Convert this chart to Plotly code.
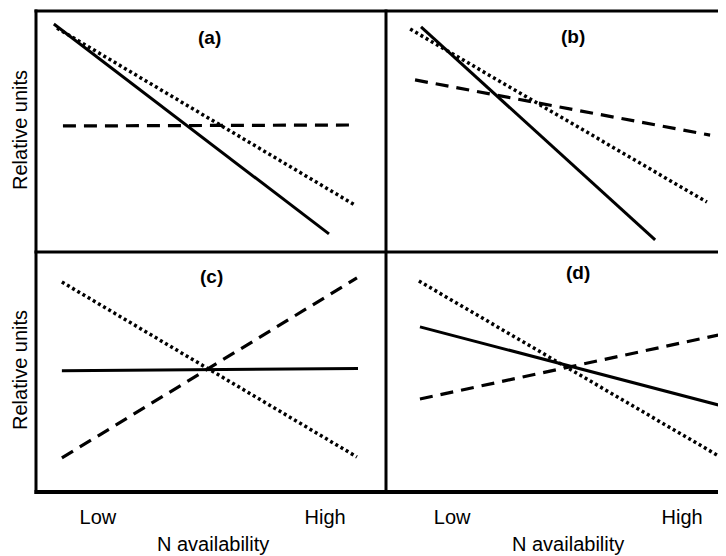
import plotly.graph_objects as go

# page is drawn with an 8px body margin, so the figure is offset by 8px
OFF = 8
W, H = 726 - OFF, 556 - OFF

# ---- data (N availability position 0..1 within panel, relative units 0..1) ----
TICK_TEXT = ["Low", "High"]
TICK_POS_LEFT = [0.177, 0.826]
TICK_POS_RIGHT = [0.189, 0.846]
PANEL_LABELS = ["(a)", "(b)", "(c)", "(d)"]
Y_TITLE = "Relative units"
X_TITLE = "N availability"

# panel (a)
A_SOLID_X, A_SOLID_Y = [0.051, 0.837], [0.946, 0.075]
A_DOT_X, A_DOT_Y = [0.060, 0.911], [0.929, 0.195]
A_DASH_X, A_DASH_Y = [0.077, 0.903], [0.523, 0.527]
# panel (b)
B_SOLID_X, B_SOLID_Y = [0.100, 0.769], [0.934, 0.050]
B_DOT_X, B_DOT_Y = [0.069, 0.917], [0.925, 0.207]
B_DASH_X, B_DASH_Y = [0.083, 0.926], [0.714, 0.485]
# panel (c)
C_SOLID_X, C_SOLID_Y = [0.074, 0.920], [0.505, 0.515]
C_DOT_X, C_DOT_Y = [0.074, 0.917], [0.875, 0.146]
C_DASH_X, C_DASH_Y = [0.074, 0.917], [0.142, 0.892]
# panel (d)
D_SOLID_X, D_SOLID_Y = [0.097, 0.983], [0.688, 0.350]
D_DOT_X, D_DOT_Y = [0.094, 0.946], [0.879, 0.154]
D_DASH_X, D_DASH_Y = [0.097, 0.949], [0.3875, 0.654]


def px(x):
    return (x - OFF) / W


def py(y):
    return 1 - (y - OFF) / H


LEFT, MID, RIGHT = 36, 386, 726
TOP, HMID, BOT = 11, 252, 492
PANEL_W = 350

fig = go.Figure()

SOLID = dict(color="black", width=3)
DOT = dict(color="black", width=3.5, dash="3px,3px")
DASH = dict(color="black", width=3.2, dash="13px,8px")

panels = [
    ("x", "y", [(A_SOLID_X, A_SOLID_Y, SOLID), (A_DOT_X, A_DOT_Y, DOT), (A_DASH_X, A_DASH_Y, DASH)]),
    ("x2", "y2", [(B_SOLID_X, B_SOLID_Y, SOLID), (B_DOT_X, B_DOT_Y, DOT), (B_DASH_X, B_DASH_Y, DASH)]),
    ("x3", "y3", [(C_SOLID_X, C_SOLID_Y, SOLID), (C_DOT_X, C_DOT_Y, DOT), (C_DASH_X, C_DASH_Y, DASH)]),
    ("x4", "y4", [(D_SOLID_X, D_SOLID_Y, SOLID), (D_DOT_X, D_DOT_Y, DOT), (D_DASH_X, D_DASH_Y, DASH)]),
]
for xa, ya, series in panels:
    for xs, ys, ln in series:
        fig.add_trace(go.Scatter(x=xs, y=ys, mode="lines", line=ln,
                                 xaxis=xa, yaxis=ya, showlegend=False,
                                 hoverinfo="skip", cliponaxis=True))

FONT = "Liberation Sans, Arial, sans-serif"
left_dom = [px(LEFT), px(MID)]
right_dom = [px(MID), 1.0]
top_dom = [py(HMID), py(TOP)]
bot_dom = [py(BOT), py(HMID)]
right_range = [0, (RIGHT - MID) / PANEL_W]

base_x = dict(showgrid=False, zeroline=False, showline=False, ticks="",
              fixedrange=True)
base_y = dict(showgrid=False, zeroline=False, showline=False, ticks="",
              showticklabels=False, range=[0, 1], fixedrange=True)

tickfont = dict(family=FONT, size=20, color="black")
fig.update_layout(
    width=W, height=H,
    margin=dict(l=0, r=0, t=0, b=0),
    paper_bgcolor="white", plot_bgcolor="white",
    xaxis=dict(base_x, domain=left_dom, range=[0, 1], anchor="y", showticklabels=False),
    yaxis=dict(base_y, domain=top_dom, anchor="x"),
    xaxis2=dict(base_x, domain=right_dom, range=right_range, anchor="y2", showticklabels=False),
    yaxis2=dict(base_y, domain=top_dom, anchor="x2"),
    xaxis3=dict(base_x, domain=left_dom, range=[0, 1], anchor="y3",
                tickvals=TICK_POS_LEFT, ticktext=TICK_TEXT, tickfont=tickfont,
                ticklabelstandoff=11),
    yaxis3=dict(base_y, domain=bot_dom, anchor="x3"),
    xaxis4=dict(base_x, domain=right_dom, range=right_range, anchor="y4",
                tickvals=TICK_POS_RIGHT, ticktext=TICK_TEXT, tickfont=tickfont,
                ticklabelstandoff=11),
    yaxis4=dict(base_y, domain=bot_dom, anchor="x4"),
)


def hline(y, x0, x1, w=3):
    fig.add_shape(type="line", xref="paper", yref="paper",
                  x0=px(x0), x1=px(x1), y0=py(y), y1=py(y),
                  line=dict(color="black", width=w))


def vline(x, y0, y1, w=3):
    fig.add_shape(type="line", xref="paper", yref="paper",
                  x0=px(x), x1=px(x), y0=py(y0), y1=py(y1),
                  line=dict(color="black", width=w))


hline(TOP, LEFT - 1.5, RIGHT)
hline(HMID, LEFT - 1.5, RIGHT)
hline(BOT, LEFT - 1.5, RIGHT, 4)
vline(LEFT, TOP - 1.5, BOT + 2)
vline(MID, TOP - 1.5, BOT + 2)
# small scan mark above panel (b)
hline(6.5, 523, 545, 1.5)

label_pos = [(209, 38), (573, 36), (211, 276), (578, 273)]
for txt, (lx, ly) in zip(PANEL_LABELS, label_pos):
    fig.add_annotation(text="<b>" + txt + "</b>", x=px(lx), y=py(ly),
                       xref="paper", yref="paper", showarrow=False,
                       font=dict(family=FONT, size=19, color="black"),
                       xanchor="center", yanchor="middle")

for cy in (130, 370):
    fig.add_annotation(text=Y_TITLE, x=0, y=py(cy), xref="paper", yref="paper",
                       showarrow=False, textangle=-90, borderpad=0,
                       font=dict(family=FONT, size=20, color="black"),
                       xanchor="left", yanchor="middle")
for cx in (213, 568):
    fig.add_annotation(text=X_TITLE, x=px(cx), y=py(544), xref="paper", yref="paper",
                       showarrow=False, font=dict(family=FONT, size=20, color="black"),
                       xanchor="center", yanchor="middle")

fig.write_html("out.html")
